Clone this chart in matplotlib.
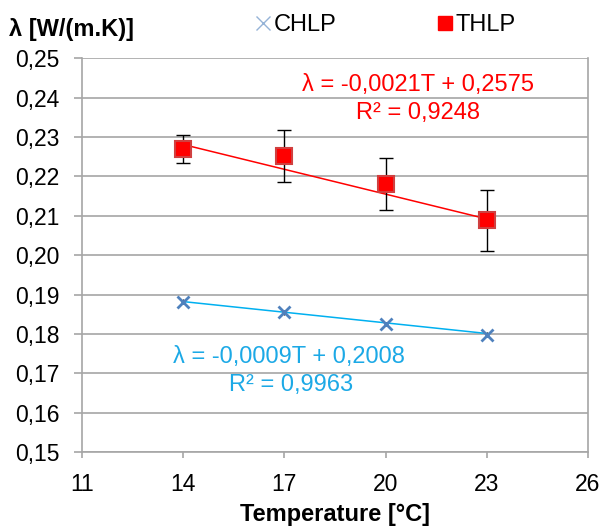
import numpy as np
import matplotlib.pyplot as plt
from matplotlib.ticker import FuncFormatter

plt.rcParams['font.family'] = ['Liberation Sans', 'DejaVu Sans']

temp = np.array([14, 17, 20, 23])
chlp = np.array([0.1882, 0.1855, 0.1825, 0.1798])
chlp_err = np.array([0.0006, 0.0006, 0.0006, 0.0006])
thlp = np.array([0.2270, 0.2252, 0.2181, 0.2088])
thlp_err = np.array([0.0036, 0.0065, 0.0067, 0.0078])

# linear fits shown on the chart
fit_chlp = (-0.0009, 0.2008)
fit_thlp = (-0.0021, 0.2575)

grey = '#A6A6A6'

fig = plt.figure(figsize=(6.03, 5.29), dpi=100)
ax = fig.add_axes([0.136, 0.1456, 0.839, 0.7442])

# trend lines
ax.plot(temp, fit_thlp[0] * temp + fit_thlp[1], color='#FF0000', lw=1.1, zorder=2)
ax.plot(temp, fit_chlp[0] * temp + fit_chlp[1], color='#00B0F0', lw=1.1, zorder=2)

ax.errorbar(temp, thlp, yerr=thlp_err, fmt='none', ecolor='black', elinewidth=1,
            capsize=5, capthick=1, zorder=3)
ax.errorbar(temp, chlp, yerr=chlp_err, fmt='none', ecolor='black', elinewidth=1,
            capsize=0, zorder=3)
ax.plot(temp, chlp, ls='none', marker='x', ms=9, mew=2, color='#4F81BD', zorder=4)
ax.plot(temp, thlp, ls='none', marker='s', ms=11, mfc='#FF0000', mec='#D04040',
        mew=1.5, zorder=4)

ax.set_xlim(11, 26)
ax.set_ylim(0.15, 0.25)
ax.set_xticks(np.arange(11, 27, 3))
ax.set_yticks(np.arange(0.15, 0.2501, 0.01))
ax.yaxis.set_major_formatter(FuncFormatter(lambda v, p: f'{v:.2f}'.replace('.', ',')))
ax.grid(axis='y', color=grey, lw=1.2)
ax.set_axisbelow(True)
ax.spines['top'].set_visible(False)
for s in ['left', 'bottom', 'right']:
    ax.spines[s].set_color(grey)
    ax.spines[s].set_linewidth(1.2)
ax.tick_params(axis='both', colors=grey, labelcolor='black', labelsize=16.5, width=1.2)
ax.tick_params(axis='y', length=6, pad=10)
ax.tick_params(axis='x', length=4, pad=11)

ax.text(0.664, 0.931, 'λ = -0,0021T + 0,2575', color='#FF0000', fontsize=17,
        ha='center', va='center', transform=ax.transAxes)
ax.text(0.664, 0.860, 'R² = 0,9248', color='#FF0000', fontsize=17,
        ha='center', va='center', transform=ax.transAxes)
ax.text(0.409, 0.241, 'λ = -0,0009T + 0,2008', color='#1CA9E6', fontsize=17,
        ha='center', va='center', transform=ax.transAxes)
ax.text(0.413, 0.170, 'R² = 0,9963', color='#1CA9E6', fontsize=17,
        ha='center', va='center', transform=ax.transAxes)

fig.text(0.015, 0.945, 'λ [W/(m.K)]', fontsize=17, fontweight='bold', va='center')
fig.text(0.5556, 0.027, 'Temperature [°C]', fontsize=17, fontweight='bold',
         ha='center', va='center')

h1 = plt.Line2D([], [], ls='none', marker='x', ms=10, mew=1, color='#95B3D7')
h2 = plt.Line2D([], [], ls='none', marker='s', ms=10, mfc='#FF0000', mec='#FF0000')
fig.legend([h1, h2], ['CHLP', 'THLP'], loc='center', bbox_to_anchor=(0.64, 0.953),
           ncol=2, frameon=False, fontsize=17, handlelength=0.6, handletextpad=0.15,
           columnspacing=4.3)

fig.savefig('out.png', dpi=100)
